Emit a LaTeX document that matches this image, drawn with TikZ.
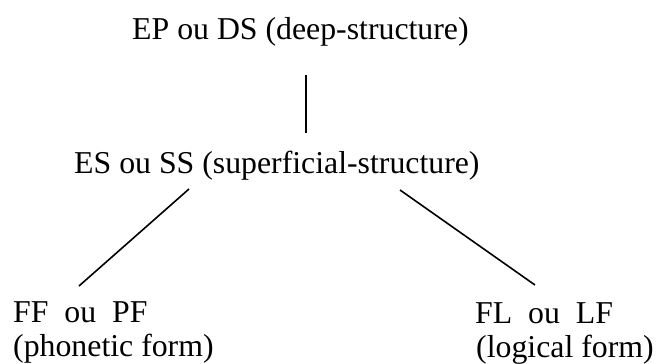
\documentclass[tikz,border=0pt]{standalone}
\usepackage{fontspec}
\setmainfont{Liberation Serif}
\usetikzlibrary{calc}
\tikzset{
  label text/.style={anchor=base west, inner sep=0pt, font=\fontsize{31.8}{38}\selectfont},
  branch/.style={line width=1.6pt, line cap=butt}
}
\begin{document}
\begin{tikzpicture}[x=1pt, y=-1pt]
  \useasboundingbox (0,0) rectangle (656,364);
  % levels of the derivation
  \node[label text] (ep) at (132,39) {EP ou DS (deep-structure)};
  \node[label text] (es) at (74,173) {ES ou SS (superficial-structure)};
  \node[label text] (ff) at (13,322) {FF~~ou~~PF};
  \node[label text] (ffgloss) at (13,356) {(phonetic form)};
  \node[label text] (fl) at (475,323) {FL~~ou~~LF};
  \node[label text] (flgloss) at (476,357) {(logical form)};
  % branches
  \draw[branch] ($(ep.base west)+(174,36)$) -- ($(es.base west)+(232,-40)$);
  \draw[branch] ($(es.base west)+(115,16)$) -- ($(ff.base west)+(66,-36)$);
  \draw[branch] ($(es.base west)+(326,17)$) -- ($(fl.base west)+(60,-38)$);
\end{tikzpicture}
\end{document}
